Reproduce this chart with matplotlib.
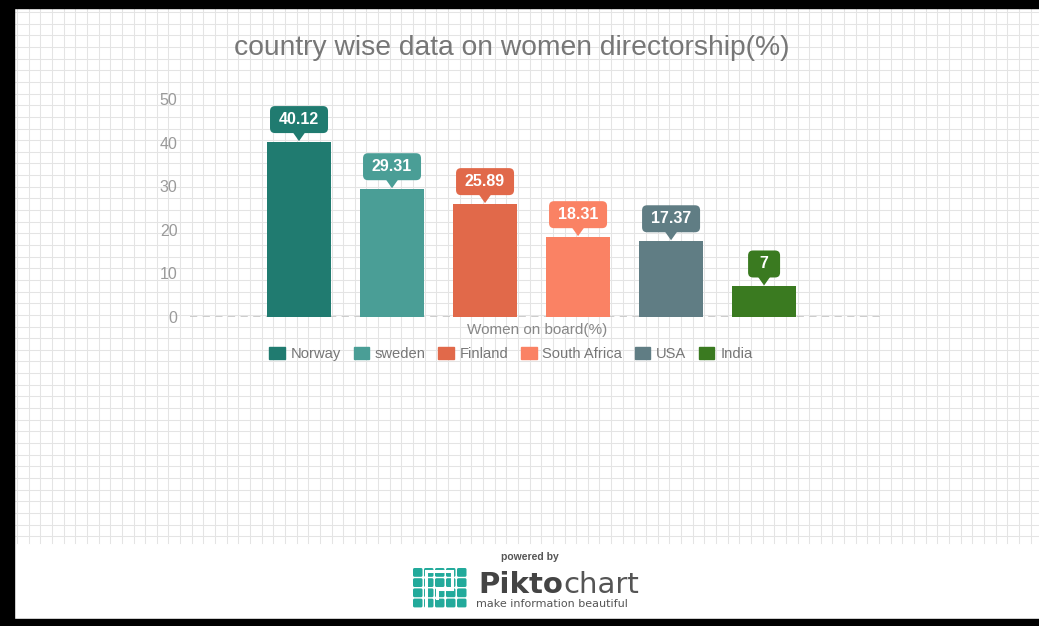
import numpy as np
import matplotlib
matplotlib.use("Agg")
import matplotlib.pyplot as plt
from matplotlib.patches import Rectangle, FancyBboxPatch, Polygon, Patch
from matplotlib.transforms import Affine2D, ScaledTranslation

plt.rcParams["font.family"] = ["Liberation Sans", "DejaVu Sans"]

# data
countries = ["Norway", "sweden", "Finland", "South Africa", "USA", "India"]
values = [40.12, 29.31, 25.89, 18.31, 17.37, 7]
labels = ["40.12", "29.31", "25.89", "18.31", "17.37", "7"]
colors = ["#207b70", "#4a9e96", "#e1694a", "#fa8264", "#607d84", "#3a7a20"]
yticks = [0, 10, 20, 30, 40, 50]

W, H = 1039, 626
fig = plt.figure(figsize=(W / 100, H / 100), dpi=100)
fig.patch.set_facecolor("white")

# ---- background: graph-paper grid + black frame (pixel coords) ----
bg = fig.add_axes([0, 0, 1, 1])
bg.set_xlim(0, W); bg.set_ylim(H, 0); bg.axis("off")
for gx in np.arange(17, W, 11.65):
    bg.plot([gx, gx], [8, 543], color="#e4e4e4", lw=0.75, zorder=0)
for gy in np.arange(12, 543, 11.65):
    bg.plot([14, W], [gy, gy], color="#e4e4e4", lw=0.75, zorder=0)
bg.add_patch(Rectangle((0, 0), W, 8, color="black", zorder=5))
bg.add_patch(Rectangle((0, 0), 14, H, color="black", zorder=5))
bg.add_patch(Rectangle((0, 619), W, 7, color="black", zorder=5))

# ---- piktochart footer ----
bg.text(530, 557, "powered by", ha="center", va="center", fontsize=7.5, fontweight="bold", color="#555555")
teal = "#22aa9b"
for r in range(4):
    for c in range(5):
        bg.add_patch(FancyBboxPatch((413 + c * 11, 568 + r * 10.2), 9.5, 8.8,
                                    boxstyle="round,pad=0,rounding_size=1.5", color=teal, lw=0, zorder=2))
bg.plot([426, 426, 452, 452, 437, 437], [607, 570.5, 570.5, 589, 589, 598],
        color="white", lw=2.2, solid_joinstyle="miter", zorder=3)
bg.text(563, 593, "Pikto", ha="right", va="baseline", fontsize=21, fontweight="bold",
        color="#444444", family="DejaVu Sans")
bg.text(563, 593, "chart", ha="left", va="baseline", fontsize=21, color="#555555", family="DejaVu Sans")
bg.text(476, 604, "make information beautiful", ha="left", va="center", fontsize=8, color="#555555",
        family="DejaVu Sans")

# ---- title ----
fig.text(512 / W, 1 - 48 / H, "country wise data on women directorship(%)", ha="center", va="center",
         fontsize=20.3, color="#777777")

# ---- chart ----
x0, x1, ytop, ybot = 190, 885, 99, 317
ax = fig.add_axes([x0 / W, 1 - ybot / H, (x1 - x0) / W, (ybot - ytop) / H])
ax.patch.set_alpha(0)
xs = np.arange(len(countries))
ax.bar(xs, values, width=0.69, color=colors, zorder=3)
ax.set_xlim(-1.172, 6.30)
ax.set_ylim(0, 50)
ax.set_yticks(yticks)
ax.tick_params(axis="y", length=0, pad=9, labelsize=11.5, labelcolor="#9a9a9a")
ax.set_xticks([])
for s in ax.spines.values():
    s.set_visible(False)
ax.axhline(0, color="#c8c8c8", lw=1.3, ls=(0, (4, 3)), zorder=2)
ax.set_xlabel("Women on board(%)", fontsize=11, color="#888888", labelpad=4)

# value callouts (geometry in pixels, anchored at bar top)
for i, (v, lab, col) in enumerate(zip(values, labels, colors)):
    tr = Affine2D() + ScaledTranslation(i, v, ax.transData)
    bw = 32 + (len(lab) - 1) * 6.5
    ax.add_patch(FancyBboxPatch((-bw / 2, 9), bw, 27, boxstyle="round,pad=0,rounding_size=5",
                                color=col, lw=0, transform=tr, clip_on=False, zorder=4))
    ax.add_patch(Polygon([(-6, 9.5), (6, 9.5), (0, 1)], closed=True, color=col, lw=0,
                         transform=tr, clip_on=False, zorder=4))
    ax.text(0, 22.5, lab, transform=tr, ha="center", va="center", color="white",
            fontsize=11.5, fontweight="bold", zorder=5, clip_on=False)

handles = [Patch(color=c, label=n) for c, n in zip(colors, countries)]
leg = fig.legend(handles=handles, loc="center", bbox_to_anchor=(511 / W, 1 - 354 / H), ncol=6,
                 frameon=False, fontsize=10.6, handlelength=1.05, handleheight=0.95,
                 handletextpad=0.4, columnspacing=0.85)
for t in leg.get_texts():
    t.set_color("#777777")

fig.savefig("out.png", dpi=100)
